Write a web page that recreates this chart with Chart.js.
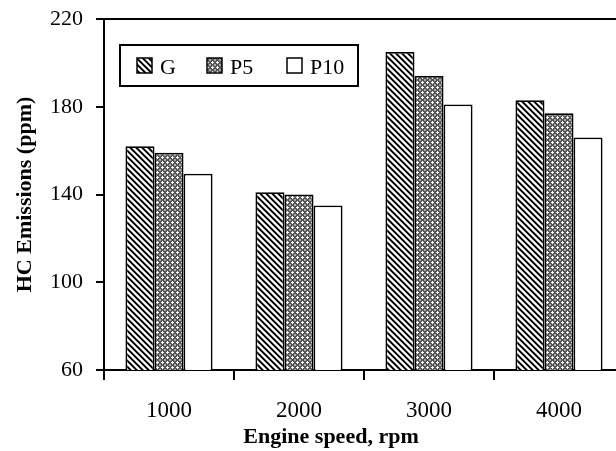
<!DOCTYPE html>
<html>
<head>
<meta charset="utf-8">
<script src="https://cdn.jsdelivr.net/npm/chart.js@4/dist/chart.umd.min.js"></script>
<style>
  html, body { margin: 0; padding: 0; background: #fff; overflow: hidden; }
  #hcChart { display: block; }
</style>
</head>
<body>
<canvas id="hcChart" width="640" height="451"></canvas>
<script>
const speeds = ['1000', '2000', '3000', '4000'];
const hcG = [162, 141, 205, 183];
const hcP5 = [159, 140, 194, 177];
const hcP10 = [149.5, 135, 181, 166];
const yTicks = [60, 100, 140, 180, 220];

const serif = "'Liberation Serif', 'Times New Roman', serif";

// small fill patterns like the old excel hatching
function makePattern(size, painter) {
  const c = document.createElement('canvas');
  c.width = size;
  c.height = size;
  const g = c.getContext('2d');
  g.fillStyle = '#fff';
  g.fillRect(0, 0, size, size);
  painter(g, size);
  return g.createPattern(c, 'repeat');
}

const stripes = makePattern(6, (g, n) => {
  for (let y = 0; y < n; y++) {
    g.fillStyle = '#000';
    g.fillRect(y % n, y, 1, 1);
    g.fillRect((y + 1) % n, y, 1, 1);
    g.fillStyle = '#888';
    g.fillRect((y + 2) % n, y, 1, 1);
    g.fillStyle = '#bbb';
    g.fillRect((y + 5) % n, y, 1, 1);
  }
});

const checks = makePattern(5, (g, n) => {
  g.fillStyle = '#555';
  g.fillRect(0, 0, n, n);
  g.fillStyle = '#fff';
  g.fillRect(1, 2, 3, 1);
  g.fillRect(2, 1, 1, 3);
  g.fillStyle = '#aaa';
  g.fillRect(0, 0, 1, 1);
  g.fillRect(4, 4, 1, 1);
  g.fillRect(0, 4, 1, 1);
  g.fillRect(4, 0, 1, 1);
});

const frame = {
  id: 'frame',
  beforeDatasetsDraw(chart) {
    const a = chart.chartArea;
    const ctx = chart.ctx;
    ctx.save();
    ctx.strokeStyle = '#000';
    ctx.lineWidth = 2;
    ctx.strokeRect(a.left, a.top, a.right - a.left, a.bottom - a.top);
    ctx.restore();
  }
};

const boxLegend = {
  id: 'boxLegend',
  afterDraw(chart) {
    const ctx = chart.ctx;
    const a = chart.chartArea;
    const x0 = a.left + 16, y0 = a.top + 26;
    const slots = [17, 87, 167];
    ctx.save();
    ctx.fillStyle = '#fff';
    ctx.fillRect(x0, y0, 238, 41);
    ctx.strokeStyle = '#000';
    ctx.lineWidth = 2;
    ctx.strokeRect(x0, y0, 238, 41);
    ctx.font = '22px ' + serif;
    ctx.textBaseline = 'alphabetic';
    ctx.lineWidth = 1.5;
    chart.data.datasets.forEach((ds, i) => {
      const sx = x0 + slots[i];
      ctx.fillStyle = ds.backgroundColor;
      ctx.fillRect(sx, y0 + 13, 15, 15);
      ctx.strokeRect(sx, y0 + 13, 15, 15);
      ctx.fillStyle = '#000';
      ctx.fillText(ds.label, sx + 23, y0 + 29);
    });
    ctx.restore();
  }
};

const xTitle = {
  id: 'xTitle',
  afterDraw(chart) {
    const ctx = chart.ctx;
    ctx.save();
    ctx.font = 'bold 22px ' + serif;
    ctx.fillStyle = '#000';
    ctx.textAlign = 'center';
    ctx.textBaseline = 'middle';
    ctx.fillText('Engine speed, rpm', 331, 437);
    ctx.restore();
  }
};

new Chart(document.getElementById('hcChart'), {
  type: 'bar',
  data: {
    labels: speeds,
    datasets: [
      { label: 'G', data: hcG, backgroundColor: stripes },
      { label: 'P5', data: hcP5, backgroundColor: checks },
      { label: 'P10', data: hcP10, backgroundColor: '#fff' }
    ].map(d => Object.assign(d, {
      borderColor: '#000',
      borderWidth: 1.8,
      barPercentage: 1,
      categoryPercentage: 0.67
    }))
  },
  options: {
    responsive: false,
    animation: false,
    devicePixelRatio: 1,
    layout: { padding: { top: 19, right: 16, left: 0, bottom: 0 } },
    plugins: {
      legend: { display: false },
      tooltip: { enabled: false }
    },
    scales: {
      x: {
        grid: { drawOnChartArea: false, tickLength: 10, color: '#000', lineWidth: 2, offset: true },
        border: { color: '#000', width: 2 },
        ticks: { color: '#000', font: { family: serif, size: 23 }, padding: 17 },
        afterFit(scale) { scale.height = 81; }
      },
      y: {
        min: 60,
        max: 220,
        afterBuildTicks(scale) { scale.ticks = yTicks.map(v => ({ value: v })); },
        grid: { drawOnChartArea: false, tickLength: 8, color: '#000', lineWidth: 2 },
        border: { color: '#000', width: 2 },
        ticks: { color: '#000', font: { family: serif, size: 22 }, padding: 13 },
        title: {
          display: true,
          text: 'HC Emissions (ppm)',
          color: '#000',
          font: { family: serif, size: 22, weight: 'bold' },
          padding: { top: 12, bottom: 0 }
        },
        afterFit(scale) {
          scale.width = 104;
          scale.paddingTop = 0;
          scale.paddingBottom = 0;
        }
      }
    }
  },
  plugins: [frame, boxLegend, xTitle]
});
</script>
</body>
</html>
